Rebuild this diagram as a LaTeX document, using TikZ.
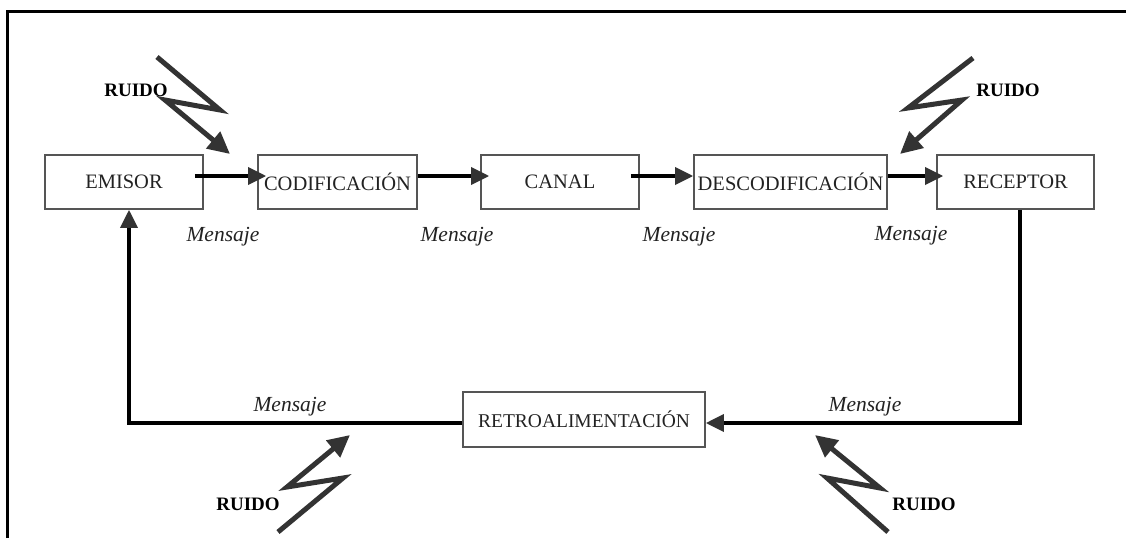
\documentclass[tikz,border=0pt]{standalone}
\usepackage{fontspec}
\setmainfont{Liberation Serif}
\usetikzlibrary{arrows.meta}
\definecolor{ink}{HTML}{222222}
\definecolor{tipgray}{HTML}{333333}
\definecolor{boxline}{HTML}{555555}
\begin{document}
\begin{tikzpicture}[x=1pt,y=-1pt,
  stage/.style={draw=boxline, line width=1.6pt, inner sep=0pt, minimum height=54pt,
    text=ink, font=\fontsize{20.5}{24}\selectfont},
  flow/.style={line width=3.5pt, -{Triangle[length=18pt,width=17pt,color=tipgray]}},
  noise/.style={draw=tipgray, line width=5pt, line join=miter,
    -{Triangle[length=22pt,width=21pt]}},
  msg/.style={text=ink, font=\itshape\fontsize{21.5}{24}\selectfont},
  ruido/.style={font=\bfseries\fontsize{19}{22}\selectfont}
]
\useasboundingbox (0,0) rectangle (1126,538);

% frame
\draw[line width=3pt] (7,538) -- (7,11) -- (1126,11);

% stages of the communication chain
\node[stage, minimum width=158pt] (emisor)   at (124,182)   {EMISOR};
\node[stage, minimum width=159pt] (codif)    at (337.5,182) {CODIFICACIÓN};
\node[stage, minimum width=158pt] (canal)    at (560,182)   {CANAL};
\node[stage, minimum width=193pt] (descod)   at (790.5,182) {DESCODIFICACIÓN};
\node[stage, minimum width=157pt] (receptor) at (1015.5,182) {RECEPTOR};
\node[stage, minimum width=242pt, minimum height=55pt,
      font=\fontsize{19.5}{23}\selectfont] (retro) at (584,419.5) {RETROALIMENTACIÓN};

% forward flow
\draw[flow] ([xshift=-9pt,yshift=6pt]emisor.east) -- ([xshift=9pt,yshift=6pt]codif.west);
\draw[flow] ([yshift=6pt]codif.east) -- ([xshift=9pt,yshift=6pt]canal.west);
\draw[flow] ([xshift=-9pt,yshift=6pt]canal.east) -- ([yshift=6pt]descod.west);
\draw[flow] ([yshift=6pt]descod.east) -- ([xshift=7pt,yshift=6pt]receptor.west);

% feedback loop
\draw[flow, line join=miter] ([xshift=4.5pt]receptor.south) |- ([yshift=-3.5pt]retro.east);
\draw[flow, line join=miter] ([yshift=-3.5pt]retro.west) -| ([xshift=5pt]emisor.south);

% message labels
\node[msg] (m1) at (223,237) {Mensaje};
\node[msg] (m2) at (457,237) {Mensaje};
\node[msg] (m3) at (679,237) {Mensaje};
\node[msg] (m4) at (911,236) {Mensaje};
\node[msg] (m5) at (290,407) {Mensaje};
\node[msg] (m6) at (865,407) {Mensaje};

% noise sources
\draw[noise] (157,57) -- (220,110) -- (165,100) -- (230,154);
\node[ruido] (r1) at (136,90) {RUIDO};

\draw[noise] (973,58) -- (908,108) -- (962,100) -- (900,154);
\node[ruido] (r2) at (1008,90) {RUIDO};

\draw[noise] (278,532) -- (343,478) -- (287,487) -- (350,435);
\node[ruido] (r3) at (248,504) {RUIDO};

\draw[noise] (888,532) -- (827,478) -- (880,488) -- (815,435);
\node[ruido] (r4) at (924,504) {RUIDO};
\end{tikzpicture}
\end{document}
